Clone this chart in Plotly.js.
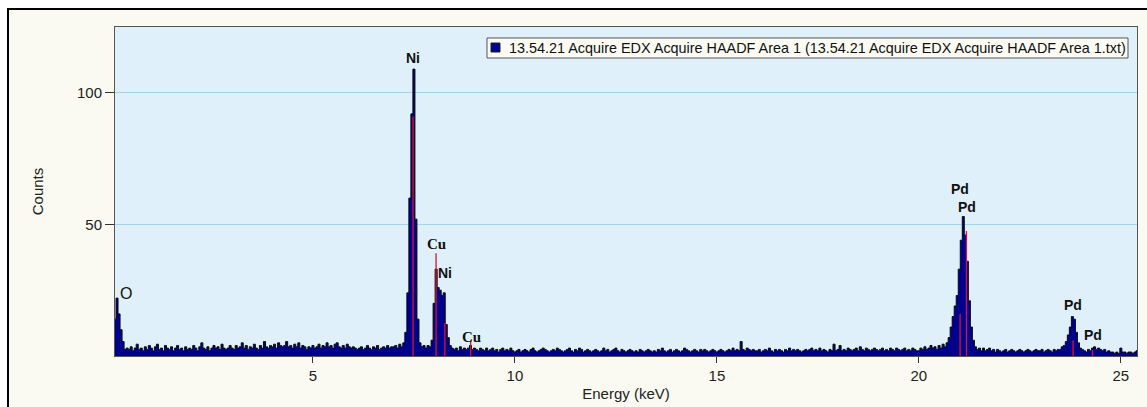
<!DOCTYPE html>
<html>
<head>
<meta charset="utf-8">
<script src="https://cdn.plot.ly/plotly-3.0.1.min.js"></script>
<style>
  html, body { margin: 0; padding: 0; background: #ffffff; }
  #frame {
    position: absolute; left: 7px; top: 8px;
    border-left: 2px solid #000; border-top: 2px solid #000;
    width: 1138px; height: 397px; overflow: hidden;
  }
  #chart { width: 1138px; height: 397px; }
</style>
</head>
<body>
<div id="frame"><div id="chart"></div></div>
<script>
// EDX spectrum: counts per 0.05 keV channel, starting at 0 keV.
const energyStart = 0.0;
const energyStep = 0.05;
const counts = [
  // 0 - 1 keV
  8, 12, 14, 22, 16, 10, 5.5, 2.5, 3, 2.5, 3.5, 2, 3, 4.5, 2.5, 3, 2, 3.5, 2.5, 4,
  // 1 - 2 keV
  3, 2, 3.5, 4.5, 2.5, 3, 2, 4, 3, 2.5, 3.5, 2, 3, 4, 2.5, 3, 2, 3.5, 2.5, 3,
  // 2 - 3 keV
  2.5, 4, 3, 2, 3.5, 5, 3, 2.5, 3.5, 2, 3, 4, 3, 3.5, 2.5, 4.5, 3, 2.5, 3, 4,
  // 3 - 4 keV
  3, 2.5, 4, 3, 3.5, 5, 3, 4, 2.5, 3.5, 3, 4.5, 3, 2.5, 4, 3, 5.5, 3.5, 3, 4,
  // 4 - 5 keV
  3.5, 4.5, 3, 5, 4, 3.5, 4, 5.5, 3.5, 4, 3, 4.5, 3.5, 5, 3, 4, 3.5, 2.5, 3.5, 3,
  // 5 - 6 keV
  4, 3, 3.5, 4.5, 3, 4, 3.5, 5, 3.5, 4, 3, 4.5, 5, 3.5, 3, 4, 3, 4.5, 3.5, 3,
  // 6 - 7 keV
  3.5, 3, 2.5, 3, 3.5, 2.5, 3, 4, 3, 2.5, 3.5, 3, 4, 2.5, 3, 3.5, 3, 4, 3, 3.5,
  // 7 - 8 keV (Ni Ka)
  3.5, 4, 3, 4.5, 3.5, 5, 9, 24, 60, 92, 109, 52, 14, 5, 3.5, 4, 3, 4, 3.5, 6,
  // 8 - 9 keV (Cu Ka, Ni Kb, Cu Kb)
  20, 33, 26, 25, 23, 24, 12, 7, 4, 3, 2.5, 3, 2, 3.5, 2.5, 3, 2.5, 3, 4, 2.5,
  // 9 - 10 keV
  3, 2.5, 2, 3, 2.5, 2, 3, 2, 2.5, 3, 2, 2.5, 1.5, 2.5, 3, 2, 2.5, 2, 3, 2,
  // 10 - 11 keV
  1.5, 2, 2.5, 1.5, 2, 2.5, 2, 1.5, 2.5, 3, 2, 1.5, 2, 2.5, 3, 2.5, 2, 1.5, 2, 2.5,
  // 11 - 12 keV
  2, 3, 2.5, 2, 1.5, 2, 2.5, 3, 2, 1.5, 2.5, 2, 3, 2.5, 1.5, 2, 2.5, 2, 1.5, 2,
  // 12 - 13 keV
  2.5, 2, 1.5, 2, 3, 2, 2.5, 1.5, 2, 2.5, 3, 2, 1.5, 2.5, 2, 1.5, 2, 2.5, 2, 1.5,
  // 13 - 14 keV
  2, 1.5, 2.5, 2, 1.5, 2, 2.5, 2, 1.5, 2, 1.5, 2.5, 2, 3, 2, 1.5, 2, 2.5, 1.5, 2,
  // 14 - 15 keV
  2.5, 2, 1.5, 2, 3, 2.5, 2, 1.5, 2, 2.5, 2, 1.5, 2.5, 2, 2.5, 2, 1.5, 2, 2.5, 2,
  // 15 - 16 keV
  1.5, 2, 2.5, 2, 1.5, 2, 2.5, 2, 3, 2, 2.5, 2, 5.5, 2.5, 2, 3, 2.5, 2, 2.5, 2,
  // 16 - 17 keV
  2, 2.5, 1.5, 2, 2.5, 2, 3, 2, 1.5, 2.5, 2, 2.5, 2, 1.5, 2.5, 2, 3, 2, 2.5, 2,
  // 17 - 18 keV
  2.5, 2, 1.5, 2, 2.5, 2, 2.5, 3, 2, 2.5, 2, 3, 2, 2.5, 2, 1.5, 2.5, 2, 4.5, 2,
  // 18 - 19 keV
  2.5, 4, 2, 2.5, 2, 3, 2.5, 2, 2.5, 3, 2, 3.5, 2.5, 2, 3, 2.5, 2, 2.5, 3, 2.5,
  // 19 - 20 keV
  2, 2.5, 3, 2, 2.5, 2, 3, 2.5, 2, 3, 2.5, 2, 2.5, 3, 2, 2.5, 2, 3, 2.5, 2,
  // 20 - 21 keV (Pd Ka rising edge)
  2, 3, 2.5, 3.5, 2.5, 3, 4, 3, 3.5, 2.5, 4, 3, 4.5, 3.5, 5, 7, 11, 15, 19, 23,
  // 21 - 22 keV
  33, 44, 53, 46, 36, 21, 11, 6, 3.5, 2.5, 3, 2, 3, 2, 2.5, 3, 2, 2.5, 1.5, 2.5,
  // 22 - 23 keV
  2, 1.5, 2, 2.5, 1.5, 2, 2.5, 2, 1.5, 2, 2.5, 2, 1.5, 2, 2.5, 2, 1.5, 2, 2.5, 2,
  // 23 - 24 keV (Pd Kb)
  2, 2.5, 1.5, 2, 2.5, 2, 1.5, 2.5, 2, 2.5, 2.5, 3.5, 4, 5.5, 8, 11, 15, 14, 9, 5,
  // 24 - 25 keV
  3, 2.5, 2, 1.5, 2.5, 2, 3, 3.5, 2.5, 3, 2.5, 2, 2.5, 1.5, 2, 1.5, 1.5, 1, 1.5, 1,
  // 25 - 25.4 keV
  3, 1.5, 1.5, 1, 1.5, 1.5, 1, 1.5, 2
];

// Characteristic line markers (keV) and their reference heights (counts).
const markerEnergy = [7.478, 8.048, 8.265, 8.905, 21.020, 21.177, 23.818, 24.299];
const markerHeight = [91, 39, 12.5, 6, 16, 47.5, 6, 2.2];

// Element labels and the energies they sit over.
const labelText   = ['O', 'Ni', 'Cu', 'Ni', 'Cu', 'Pd', 'Pd', 'Pd', 'Pd'];
const labelEnergy = [0.36, 7.48, 8.05, 8.26, 8.93, 21.02, 21.18, 23.82, 24.30];

const tickEnergy = [5, 10, 15, 20, 25];
const tickCounts = [50, 100];

const seriesName = '13.54.21 Acquire EDX Acquire HAADF Area 1 (13.54.21 Acquire EDX Acquire HAADF Area 1.txt)';
const seriesColor = '#00008e';

// label layout: vertical anchor (counts) and font per label
const labelY    = [23.7, 113.2, 42.4, 31.7, 7.3, 63.4, 56.5, 19.5, 8.0];
const labelFont = ['sansReg', 'sansBold', 'serifBold', 'sansBold', 'serifBold',
                   'sansBold', 'sansBold', 'sansBold', 'sansBold'];
const fonts = {
  sansReg:   {family: 'Liberation Sans, Arial, sans-serif', size: 16, color: '#111'},
  sansBold:  {family: 'Liberation Sans, Arial, sans-serif', size: 14, color: '#111', weight: 'bold'},
  serifBold: {family: 'Liberation Serif, Times New Roman, serif', size: 15, color: '#111', weight: 'bold'}
};

const markerX = [], markerY = [];
markerEnergy.forEach((e, i) => {
  markerX.push(e, e, null);
  markerY.push(0, markerHeight[i], null);
});

const spectrum = {
  type: 'scatter', mode: 'lines', name: seriesName,
  x0: energyStart, dx: energyStep, y: counts,
  line: {color: '#0a0a0a', width: 1, shape: 'hvh'},
  fill: 'tozeroy', fillcolor: seriesColor,
  showlegend: false, hoverinfo: 'x+y'
};

const markers = {
  type: 'scatter', mode: 'lines',
  x: markerX, y: markerY,
  line: {color: '#e0102a', width: 1.3},
  showlegend: false, hoverinfo: 'skip'
};

const annotations = labelText.map((t, i) => ({
  x: labelEnergy[i], y: labelY[i], xref: 'x', yref: 'y',
  text: t, showarrow: false, font: fonts[labelFont[i]],
  xanchor: 'center', yanchor: 'middle'
}));

// series key: framed box, colour swatch and file name, upper right of the plot
const keyShapes = [
  {type: 'rect', xref: 'paper', yref: 'paper', layer: 'above',
   x0: 0.3640, x1: 0.9912, y0: 0.9058, y1: 0.9666,
   fillcolor: '#fcfcf4', line: {color: '#555', width: 1}},
  {type: 'rect', xref: 'paper', yref: 'paper', layer: 'above',
   x0: 0.3679, x1: 0.3767, y0: 0.9240, y1: 0.9514,
   fillcolor: seriesColor, line: {color: '#202040', width: 1}}
];
annotations.push({
  xref: 'paper', yref: 'paper', x: 0.3836, y: 0.9362,
  xanchor: 'left', yanchor: 'middle', showarrow: false,
  text: seriesName,
  font: {family: 'Liberation Sans, Arial, sans-serif', size: 14.4, color: '#111'}
});

const layout = {
  width: 1138, height: 397,
  margin: {l: 106, r: 10, t: 17, b: 51},
  paper_bgcolor: '#fafaf2',
  plot_bgcolor: '#e0f0fa',
  font: {family: 'Liberation Sans, Arial, sans-serif', size: 15, color: '#222'},
  showlegend: false,
  xaxis: {
    range: [0.1, 25.4], tickvals: tickEnergy, ticktext: tickEnergy.map(String),
    ticks: 'outside', ticklen: 6, tickcolor: '#333', tickwidth: 1,
    showgrid: false, zeroline: false,
    showline: true, linecolor: '#555', linewidth: 1, mirror: true,
    title: {text: 'Energy (keV)', font: {size: 15, color: '#222'}, standoff: 5}
  },
  yaxis: {
    range: [0, 125], tickvals: tickCounts, ticktext: tickCounts.map(String),
    ticks: 'outside', ticklen: 9, tickcolor: '#333', tickwidth: 1,
    showgrid: true, gridcolor: '#a4d4ea', gridwidth: 1, zeroline: false,
    showline: true, linecolor: '#555', linewidth: 1, mirror: true,
    title: {text: 'Counts', font: {size: 15, color: '#222'}, standoff: 29}
  },
  shapes: keyShapes,
  annotations: annotations
};

Plotly.newPlot('chart', [spectrum, markers], layout, {displayModeBar: false, staticPlot: true});
</script>
</body>
</html>
